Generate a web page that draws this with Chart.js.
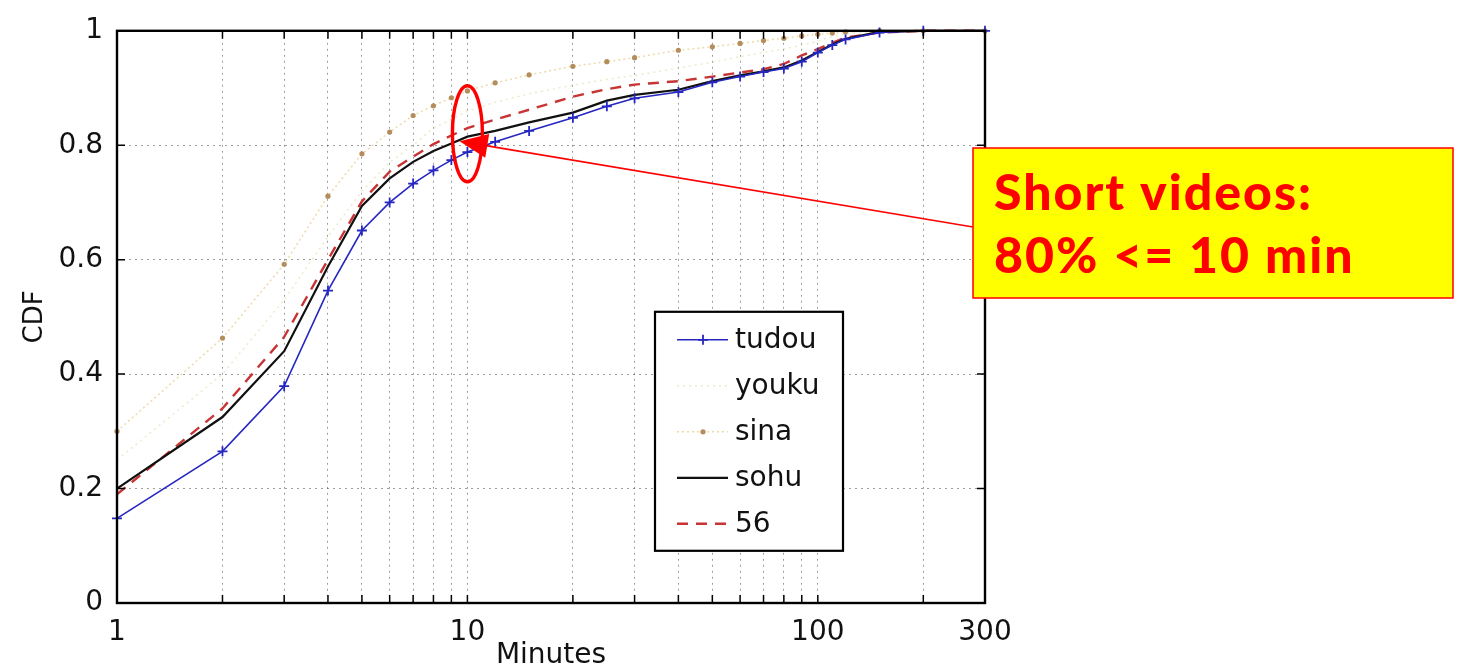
<!DOCTYPE html>
<html><head><meta charset="utf-8">
<script src="https://cdn.jsdelivr.net/npm/chart.js@4.4.1/dist/chart.umd.min.js"></script>
<style>html,body{margin:0;padding:0;background:#fff;}canvas{display:block;}</style>
</head><body>
<canvas id="c" width="1458" height="670"></canvas>
<script>
// ---- data ----
const minutes = [1,2,3,4,5,6,7,8,9,10,12,15,20,25,30,40,50,60,70,80,90,100,110,120,150,200,300];
const tudou = [0.148,0.265,0.379,0.546,0.651,0.700,0.733,0.756,0.774,0.788,0.806,0.825,0.848,0.868,0.882,0.893,0.910,0.920,0.928,0.934,0.946,0.962,0.975,0.985,0.997,1,1];
const youku = [0.25,0.40,0.53,0.64,0.72,0.77,0.80,0.83,0.845,0.86,0.875,0.89,0.905,0.915,0.922,0.935,0.945,0.955,0.962,0.968,0.975,0.982,0.99,0.995,1,1,1];
const sina  = [0.300,0.463,0.592,0.711,0.785,0.823,0.852,0.869,0.883,0.895,0.909,0.923,0.938,0.946,0.953,0.966,0.972,0.978,0.983,0.987,0.991,0.994,0.996,0.998,1,1,1];
const sohu  = [0.200,0.325,0.440,0.588,0.694,0.742,0.771,0.790,0.803,0.815,0.825,0.840,0.857,0.878,0.888,0.897,0.912,0.922,0.929,0.936,0.948,0.963,0.976,0.986,0.998,1,1];
const site56 = [0.190,0.340,0.465,0.600,0.702,0.754,0.780,0.802,0.817,0.830,0.845,0.862,0.885,0.898,0.906,0.912,0.920,0.927,0.933,0.942,0.957,0.968,0.979,0.988,0.997,1,1];
const seriesNames = ['tudou','youku','sina','sohu','56'];
const xTickValues = [1,2,3,4,5,6,7,8,9,10,20,30,40,50,60,70,80,90,100,200,300];
const xTickLabels = [1,10,100,300];
const yTickValues = [0,0.2,0.4,0.6,0.8,1];
const noteLines = ['Short videos:','80% <= 10 min'];

const pts = arr => minutes.map((m,i)=>({x:m,y:arr[i]}));
const FONT = 'DejaVu Sans';

const datasets = [
  {label:seriesNames[0], data:pts(tudou), borderColor:'#2626c0', borderWidth:1.6,
   pointStyle:'cross', pointRadius:5, pointBorderWidth:1.8, pointBorderColor:'#2626c0', pointBackgroundColor:'#2626c0'},
  {label:seriesNames[1], data:pts(youku), borderColor:'rgba(215,215,150,0.5)', borderWidth:1.5, borderDash:[2,4], pointRadius:0},
  {label:seriesNames[2], data:pts(sina), borderColor:'rgba(232,205,140,0.75)', borderWidth:1.5, borderDash:[2,3],
   pointStyle:'circle', pointRadius:2.6, pointBorderWidth:0, pointBackgroundColor:'#b48d5c'},
  {label:seriesNames[3], data:pts(sohu), borderColor:'#111111', borderWidth:2.2, pointRadius:0},
  {label:seriesNames[4], data:pts(site56), borderColor:'#c83434', borderWidth:2.4, borderDash:[11,8], pointRadius:0}
];
datasets.forEach(d=>{d.tension=0; d.clip=6; d.fill=false;});

const overlay = {
  id:'overlay',
  afterDatasetsDraw(chart){
    const {ctx, chartArea:a, scales:{x,y}} = chart;
    ctx.save();
    ctx.strokeStyle='#000'; ctx.lineWidth=1.5;
    xTickValues.forEach(v=>{
      const px = x.getPixelForValue(v);
      ctx.beginPath(); ctx.moveTo(px,a.bottom); ctx.lineTo(px,a.bottom-8);
      ctx.moveTo(px,a.top); ctx.lineTo(px,a.top+8); ctx.stroke();
    });
    yTickValues.forEach(v=>{
      const py = y.getPixelForValue(v);
      ctx.beginPath(); ctx.moveTo(a.left,py); ctx.lineTo(a.left+8,py);
      ctx.moveTo(a.right,py); ctx.lineTo(a.right-8,py); ctx.stroke();
    });
    ctx.lineWidth=2.4; ctx.strokeRect(a.left,a.top,a.right-a.left,a.bottom-a.top);
    ctx.restore();
  },
  afterDraw(chart){
    const {ctx, chartArea:a, scales:{x,y}} = chart;
    ctx.save();
    // legend
    const lx = a.left+538, ly = a.top+281, lw = 188, lh = 239;
    ctx.fillStyle='#fff'; ctx.fillRect(lx,ly,lw,lh);
    ctx.strokeStyle='#000'; ctx.lineWidth=2.2; ctx.strokeRect(lx,ly,lw,lh);
    ctx.font = '28px "'+FONT+'"'; ctx.textBaseline='middle'; ctx.textAlign='left';
    chart.data.datasets.forEach((d,i)=>{
      const yy = ly+28+i*46;
      ctx.save();
      ctx.strokeStyle=d.borderColor; ctx.lineWidth=d.borderWidth;
      ctx.setLineDash(d.borderDash||[]);
      ctx.beginPath(); ctx.moveTo(lx+22,yy); ctx.lineTo(lx+73,yy); ctx.stroke();
      ctx.setLineDash([]);
      if(d.pointStyle==='cross'){
        ctx.strokeStyle=d.pointBorderColor; ctx.lineWidth=d.pointBorderWidth;
        ctx.beginPath(); ctx.moveTo(lx+48,yy-5); ctx.lineTo(lx+48,yy+5); ctx.moveTo(lx+43,yy); ctx.lineTo(lx+53,yy); ctx.stroke();
      } else if(d.pointRadius>0){
        ctx.fillStyle=d.pointBackgroundColor; ctx.beginPath(); ctx.arc(lx+48,yy,d.pointRadius,0,Math.PI*2); ctx.fill();
      }
      ctx.restore();
      ctx.fillStyle='#111'; ctx.fillText(d.label, lx+80, yy+1);
    });
    // annotation: ellipse around x=10
    const ex = x.getPixelForValue(10), ey = y.getPixelForValue(0.82);
    ctx.strokeStyle='#ff0000'; ctx.lineWidth=3.4;
    ctx.beginPath(); ctx.ellipse(ex,ey,15,48,0,0,Math.PI*2); ctx.stroke();
    // yellow box
    const bx=973, by=148, bw=480, bh=150;
    ctx.fillStyle='#ffff00'; ctx.fillRect(bx,by,bw,bh);
    ctx.strokeStyle='#ff0000'; ctx.lineWidth=1.5; ctx.strokeRect(bx,by,bw,bh);
    ctx.fillStyle='#ff0000'; ctx.font='900 50px Lato'; ctx.textBaseline='alphabetic';
    try { ctx.letterSpacing = '2px'; } catch(e) {}
    ctx.fillText(noteLines[0], bx+21, by+62);
    ctx.fillText(noteLines[1], bx+21, by+125);
    try { ctx.letterSpacing = '0px'; } catch(e) {}
    // arrow
    const tx = x.getPixelForValue(9.5), ty = y.getPixelForValue(0.807);
    const sx = bx, sy = 227;
    const ang = Math.atan2(ty-sy, tx-sx);
    ctx.strokeStyle='#ff0000'; ctx.lineWidth=1.6;
    ctx.beginPath(); ctx.moveTo(sx,sy); ctx.lineTo(tx-22*Math.cos(ang), ty-22*Math.sin(ang)); ctx.stroke();
    const hl=28, hw=12;
    const bxp = tx-hl*Math.cos(ang), byp = ty-hl*Math.sin(ang);
    ctx.fillStyle='#ff0000'; ctx.beginPath();
    ctx.moveTo(tx,ty);
    ctx.lineTo(bxp+hw*Math.sin(ang), byp-hw*Math.cos(ang));
    ctx.lineTo(bxp-hw*Math.sin(ang), byp+hw*Math.cos(ang));
    ctx.closePath(); ctx.fill();
    ctx.restore();
  }
};

new Chart(document.getElementById('c'), {
  type:'line',
  data:{datasets},
  options:{
    responsive:false, devicePixelRatio:1, animation:false,
    layout:{padding:{left:0,right:473,top:22,bottom:0}},
    plugins:{legend:{display:false}, tooltip:{enabled:false}},
    scales:{
      x:{type:'logarithmic', min:1, max:300,
        afterBuildTicks:s=>{ s.ticks = xTickValues.map(v=>({value:v})); },
        ticks:{autoSkip:false, maxRotation:0, minRotation:0, padding:13, color:'#111',
          font:{family:FONT,size:28},
          callback:v=> xTickLabels.includes(v) ? String(v) : ''},
        grid:{color:'rgba(0,0,0,0.38)', lineWidth:1, drawTicks:false},
        border:{display:false, dash:[2,4]},
        title:{display:true, text:'Minutes', color:'#111', font:{family:FONT,size:28}, padding:{top:0,bottom:-3}},
        afterFit:s=>{ s.height = 67; }
      },
      y:{min:0, max:1,
        afterBuildTicks:s=>{ s.ticks = yTickValues.map(v=>({value:v})); },
        ticks:{padding:14, color:'#111', font:{family:FONT,size:28},
          callback:v=> String(Math.round(v*10)/10)},
        grid:{color:'rgba(0,0,0,0.38)', lineWidth:1, drawTicks:false},
        border:{display:false, dash:[2,4]},
        title:{display:true, text:'CDF', color:'#111', font:{family:FONT,size:26}, padding:{top:20,bottom:0}},
        afterFit:s=>{ s.width = 117; }
      }
    }
  },
  plugins:[overlay]
});
</script>
</body></html>
